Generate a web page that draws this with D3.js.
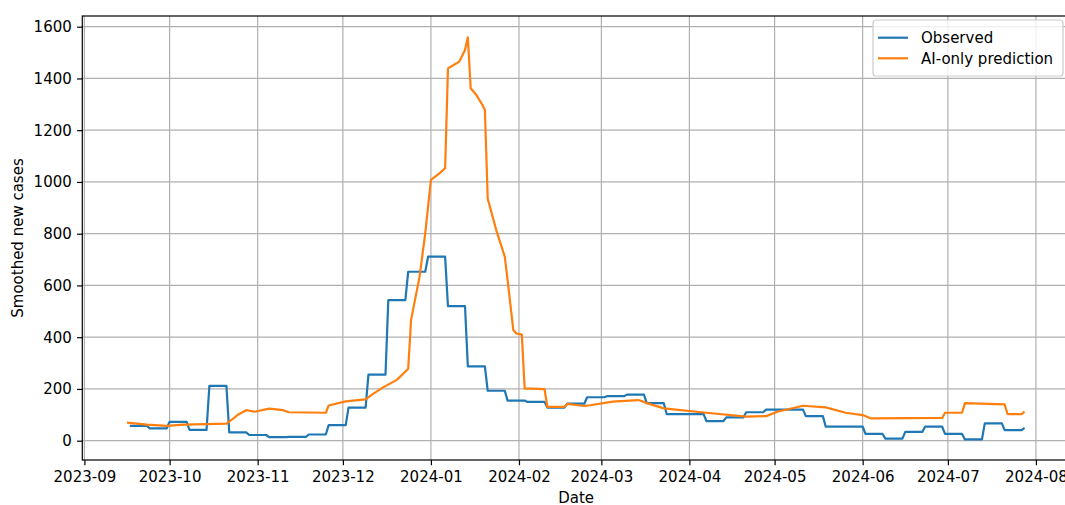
<!DOCTYPE html>
<html>
<head>
<meta charset="utf-8">
<script src="https://cdn.jsdelivr.net/npm/d3@7"></script>
<style>
  body { margin: 0; background: #fff; }
  svg { display: block; font-family: "DejaVu Sans", sans-serif; }
</style>
</head>
<body>
<svg width="1065" height="505"></svg>
<script>
// weekly observed values (one value per week, week starts on Sunday)
var obsWeeks = ["2023-09-17","2023-09-24","2023-10-01","2023-10-08","2023-10-15","2023-10-22","2023-10-29",
  "2023-11-05","2023-11-12","2023-11-19","2023-11-26","2023-12-03","2023-12-10","2023-12-17","2023-12-24",
  "2023-12-31","2024-01-07","2024-01-14","2024-01-21","2024-01-28","2024-02-04","2024-02-11","2024-02-18",
  "2024-02-25","2024-03-03","2024-03-10","2024-03-17","2024-03-24","2024-03-31","2024-04-07","2024-04-14",
  "2024-04-21","2024-04-28","2024-05-05","2024-05-12","2024-05-19","2024-05-26","2024-06-02","2024-06-09",
  "2024-06-16","2024-06-23","2024-06-30","2024-07-07","2024-07-14","2024-07-21","2024-07-28"];
var obsValues = [57, 48, 73, 42, 212, 32, 22,
  14, 15, 24, 60, 128, 255, 543, 653,
  711, 520, 287, 193, 155, 150, 128, 143,
  168, 172, 178, 145, 103, 103, 76, 90,
  110, 120, 120, 95, 54, 54, 26, 8,
  34, 54, 26, 5, 67, 41, 50];
var obsLastDay = "2024-07-28";

// AI-only prediction
var predDates = ["2023-09-16","2023-09-23","2023-09-30","2023-10-06","2023-10-14","2023-10-21","2023-10-23",
  "2023-10-25","2023-10-28","2023-10-31","2023-11-05","2023-11-10","2023-11-12","2023-11-25","2023-11-26",
  "2023-12-02","2023-12-09","2023-12-11","2023-12-15","2023-12-20","2023-12-24","2023-12-25","2023-12-28",
  "2023-12-30","2024-01-01","2024-01-04","2024-01-06","2024-01-07","2024-01-09","2024-01-11","2024-01-13",
  "2024-01-14","2024-01-15","2024-01-17","2024-01-19","2024-01-20","2024-01-21","2024-01-24","2024-01-27",
  "2024-01-28","2024-01-30","2024-01-31","2024-02-02","2024-02-03","2024-02-10","2024-02-11","2024-02-17",
  "2024-02-18","2024-02-24","2024-02-26","2024-03-05","2024-03-14","2024-03-16","2024-03-17","2024-03-23",
  "2024-03-28","2024-04-07","2024-04-21","2024-04-28","2024-05-02","2024-05-11","2024-05-19","2024-05-26",
  "2024-06-01","2024-06-04","2024-06-29","2024-06-30","2024-07-06","2024-07-07","2024-07-21","2024-07-22",
  "2024-07-27","2024-07-28"];
var predValues = [70, 62, 57, 62, 64, 66, 82,
  100, 118, 112, 124, 118, 110, 108, 136,
  152, 160, 176, 205, 235, 278, 466, 634,
  801, 1008, 1033, 1053, 1439, 1452, 1465, 1510,
  1559, 1362, 1336, 1300, 1278, 935, 814, 711,
  621, 428, 415, 410, 202, 199, 131, 131,
  142, 134, 137, 151, 157, 150, 145, 125,
  119, 108, 93, 95, 112, 135, 129, 108,
  99, 86, 88, 108, 108, 145, 140, 103,
  103, 112];

var yTicks = [0, 200, 400, 600, 800, 1000, 1200, 1400, 1600];
var monthTicks = ["2023-09-01","2023-10-01","2023-11-01","2023-12-01","2024-01-01","2024-02-01",
  "2024-03-01","2024-04-01","2024-05-01","2024-06-01","2024-07-01","2024-08-01"];
var seriesNames = ["Observed", "AI-only prediction"];
var seriesColors = ["#1f77b4", "#ff7f0e"];

var parse = d3.utcParse("%Y-%m-%d");
var DAY = 864e5;

var svg = d3.select("svg"),
    margin = {top: 16, left: 82.3},
    plotRight = 1070,
    plotBottom = 460;

// axes limits include matplotlib's 5% margin on both sides
var x = d3.scaleUtc()
    .domain([new Date(parse("2023-09-01").getTime() - 0.74 * DAY), parse("2024-08-13")])
    .range([margin.left, plotRight]);

var y = d3.scaleLinear()
    .domain([-74.6, 1641.3])
    .range([plotBottom, margin.top]);

var fontSize = 15;

// grid
var grid = svg.append("g").attr("stroke", "#b0b0b0").attr("stroke-width", 1.2);
grid.selectAll(".vx").data(monthTicks).enter().append("line")
    .attr("x1", function(d) { return x(parse(d)); })
    .attr("x2", function(d) { return x(parse(d)); })
    .attr("y1", margin.top).attr("y2", plotBottom);
grid.selectAll(".hy").data(yTicks).enter().append("line")
    .attr("x1", margin.left).attr("x2", plotRight)
    .attr("y1", function(d) { return y(d); })
    .attr("y2", function(d) { return y(d); });

// observed: each week is flat, then a one-day step to the next week
var lastDay = parse(obsLastDay);
var obsPoints = [];
obsWeeks.forEach(function(w, i) {
  var start = parse(w);
  var end = new Date(Math.min(start.getTime() + 6 * DAY, lastDay.getTime()));
  obsPoints.push([start, obsValues[i]]);
  if (end > start) obsPoints.push([end, obsValues[i]]);
});
var predPoints = predDates.map(function(d, i) { return [parse(d), predValues[i]]; });

var line = d3.line()
    .x(function(d) { return x(d[0]); })
    .y(function(d) { return y(d[1]); });

svg.append("path")
    .datum(obsPoints)
    .attr("fill", "none")
    .attr("stroke", seriesColors[0])
    .attr("stroke-width", 2.2)
    .attr("stroke-linejoin", "round")
    .attr("d", line);

svg.append("path")
    .datum(predPoints)
    .attr("fill", "none")
    .attr("stroke", seriesColors[1])
    .attr("stroke-width", 2.2)
    .attr("stroke-linejoin", "round")
    .attr("d", line);

// x axis
var xAxis = svg.append("g")
    .attr("transform", "translate(0," + plotBottom + ")")
    .call(d3.axisBottom(x)
      .tickValues(monthTicks.map(parse))
      .tickFormat(d3.utcFormat("%Y-%m"))
      .tickSizeInner(5.25).tickSizeOuter(0).tickPadding(5.25));
xAxis.select(".domain").remove();
xAxis.selectAll(".tick line").attr("stroke", "#000").attr("stroke-width", 1.2);
xAxis.selectAll(".tick text")
    .attr("font-family", "DejaVu Sans").attr("font-size", fontSize).attr("fill", "#000")
    .attr("dy", "0.76em");

// y axis
var yAxis = svg.append("g")
    .attr("transform", "translate(" + margin.left + ",0)")
    .call(d3.axisLeft(y)
      .tickValues(yTicks)
      .tickFormat(d3.format("d"))
      .tickSizeInner(5.25).tickSizeOuter(0).tickPadding(5.25));
yAxis.select(".domain").remove();
yAxis.selectAll(".tick line").attr("stroke", "#000").attr("stroke-width", 1.2);
yAxis.selectAll(".tick text")
    .attr("font-family", "DejaVu Sans").attr("font-size", fontSize).attr("fill", "#000");

// spines (right one lies just past the picture edge)
svg.append("rect")
    .attr("x", margin.left).attr("y", margin.top)
    .attr("width", plotRight - margin.left).attr("height", plotBottom - margin.top)
    .attr("fill", "none").attr("stroke", "#000").attr("stroke-width", 1.2);

// axis labels
svg.append("text")
    .attr("x", (margin.left + plotRight) / 2).attr("y", 503)
    .attr("text-anchor", "middle").attr("font-size", fontSize).attr("fill", "#000")
    .text("Date");
svg.append("text")
    .attr("transform", "translate(22.6," + (margin.top + plotBottom) / 2 + ") rotate(-90)")
    .attr("text-anchor", "middle").attr("font-size", fontSize).attr("fill", "#000")
    .text("Smoothed new cases");

// legend
var legend = svg.append("g");
legend.append("rect")
    .attr("x", 873).attr("y", 20).attr("width", 190).attr("height", 56).attr("rx", 3)
    .attr("fill", "#fff").attr("fill-opacity", 0.8)
    .attr("stroke", "#cccccc").attr("stroke-width", 1.2);
var item = legend.selectAll(".item").data(seriesNames).enter().append("g")
    .attr("transform", function(d, i) { return "translate(0," + (37.7 + i * 20.6) + ")"; });
item.append("line")
    .attr("x1", 878).attr("x2", 908)
    .attr("stroke", function(d, i) { return seriesColors[i]; })
    .attr("stroke-width", 2.2);
item.append("text")
    .attr("x", 921).attr("dy", "0.35em")
    .attr("font-size", fontSize).attr("fill", "#000")
    .text(function(d) { return d; });
</script>
</body>
</html>
